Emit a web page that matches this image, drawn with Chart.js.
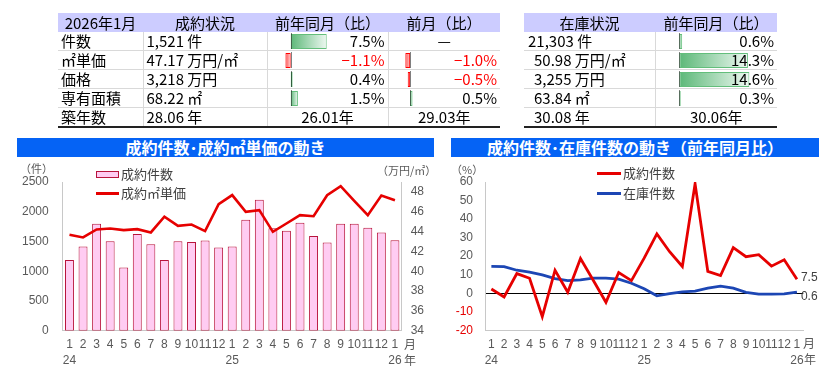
<!DOCTYPE html>
<html lang="ja">
<head>
<meta charset="UTF-8" />
<title>2026年1月 成約・在庫状況</title>
<script src="https://cdn.jsdelivr.net/npm/chart.js"></script>
<style>
  html, body { margin: 0; padding: 0; }
  body { width: 826px; height: 373px; position: relative; overflow: hidden; background: #fff;
         font-family: "Noto Sans CJK JP", sans-serif; color: #000; }
  .abs { position: absolute; }
  table { position: absolute; border-collapse: collapse; table-layout: fixed; z-index: 2; }
  th, td { padding: 0; font-size: 15px; line-height: 18px; font-weight: normal; white-space: nowrap; }
  th { background: #ccccff; text-align: center; height: 19px; }
  td { height: 18px; border-bottom: 1px solid #d9d9d9; border-right: 1px solid #d9d9d9; }
  td:last-child { border-right: none; }
  tr.last td { border-bottom: 2px solid #222; height: 17px; }
  td.l { text-align: left; padding-left: 3px; }
  td.r { text-align: right; padding-right: 3px; }
  td.c { text-align: center; }
  td.neg { color: #ff0000; }
  .title { position: absolute; height: 19px; line-height: 19px; background: #0563f5; color: #fff;
           font-size: 16px; font-weight: bold; text-align: center; }
  .note { position: absolute; font-size: 11px; color: #595959; line-height: 12px; white-space: nowrap; }
  .leg { position: absolute; font-size: 13px; color: #404040; line-height: 14px; white-space: nowrap; }
  .tick { position: absolute; font-family: "Liberation Sans", "Noto Sans CJK JP", sans-serif; font-size: 12px; color: #595959; line-height: 14px; }
  canvas { position: absolute; }
</style>
</head>
<body>
<table id="t1" style="left:58px; top:13px; width:442px">
  <colgroup><col style="width:85px"><col style="width:124px"><col style="width:121px"><col style="width:112px"></colgroup>
  <thead><tr><th>2026年1月</th><th>成約状況</th><th>前年同月（比）</th><th>前月（比）</th></tr></thead>
  <tbody></tbody>
</table>
<table id="t2" style="left:524px; top:13px; width:253px">
  <colgroup><col style="width:131px"><col style="width:122px"></colgroup>
  <thead><tr><th>在庫状況</th><th>前年同月（比）</th></tr></thead>
  <tbody></tbody>
</table>

<canvas id="barYoY" width="118" height="76" style="left:268px; top:32px; z-index:1"></canvas>
<canvas id="barMoM" width="109" height="57" style="left:389px; top:51px; z-index:1"></canvas>
<canvas id="barStock" width="119" height="76" style="left:656px; top:32px; z-index:1"></canvas>

<div class="title" style="left:17px; top:138px; width:417px">成約件数･成約㎡単価の動き</div>
<div class="title" style="left:451px; top:138px; width:368px">成約件数･在庫件数の動き（前年同月比）</div>

<canvas id="left" width="440" height="213" style="left:0; top:160px"></canvas>
<canvas id="right" width="386" height="213" style="left:440px; top:160px"></canvas>

<div class="note" style="left:20px; top:162px">（件）</div>
<div class="note" style="left:377px; top:164px">（万円/㎡）</div>
<div class="note" style="left:451px; top:163px">（%）</div>

<div class="abs" style="left:96px; top:171px; width:21px; height:5px; background:#ffccf2; border:1px solid #b8143c"></div>
<div class="leg" style="left:121px; top:167px">成約件数</div>
<div class="abs" style="left:96px; top:192px; width:23px; height:3px; background:#e60000"></div>
<div class="leg" style="left:121px; top:186px">成約㎡単価</div>

<div class="abs" style="left:597px; top:172px; width:24px; height:3px; background:#e60000"></div>
<div class="leg" style="left:623px; top:166px">成約件数</div>
<div class="abs" style="left:597px; top:192px; width:24px; height:3px; background:#1c46b4"></div>
<div class="leg" style="left:623px; top:186px">在庫件数</div>

<div class="tick" style="left:404px; top:338px">月</div>
<div class="tick" style="left:404px; top:354px">年</div>
<div class="tick" style="left:803px; top:337px">月</div>
<div class="tick" style="left:804px; top:353px">年</div>

<script>
// table values
const rowNames = ['件数', '㎡単価', '価格', '専有面積', '築年数'];
const contractValues = ['1,521 件', '47.17 万円/㎡', '3,218 万円', '68.22 ㎡', '28.06 年'];
const contractYoY = [7.5, -1.1, 0.4, 1.5];
const contractMoM = [null, -1.0, -0.5, 0.5];
const ageYoY = '26.01年';
const ageMoM = '29.03年';
const stockValues = ['21,303 件', '50.98 万円/㎡', '3,255 万円', '63.84 ㎡', '30.08 年'];
const stockYoYTable = [0.6, 14.3, 14.6, 0.3];
const stockAge = '30.06年';

// chart values, Jan 2024 .. Jan 2026
const months = ['1','2','3','4','5','6','7','8','9','10','11','12','1','2','3','4','5','6','7','8','9','10','11','12','1'];
const years = ['24', '25', '26'];
const contracts = [1190, 1415, 1801, 1505, 1063, 1628, 1454, 1190, 1505, 1493, 1516, 1398,
                   1415, 1868, 2204, 1722, 1683, 1818, 1594, 1482, 1801, 1801, 1734, 1650, 1521];
const unitPrice = [43.68, 43.41, 44.22, 44.32, 44.15, 44.25, 43.92, 45.50, 44.59, 44.72, 44.05, 46.77,
                   47.69, 46.00, 46.17, 43.98, 44.82, 45.66, 45.56, 47.68, 48.59, 47.10, 45.66, 47.65, 47.17];
const contractsYoY = [2.3, -2.0, 10.6, 8.1, -12.6, 12.4, 0.5, 18.7, 7.0, -4.9, 11.2, 6.8,
                      18.9, 32.0, 22.4, 14.4, 59.0, 11.8, 9.5, 24.6, 19.7, 20.8, 14.6, 18.0, 7.5];
const stockYoY = [14.5, 14.4, 12.4, 11.4, 9.9, 7.9, 6.8, 7.2, 8.1, 8.1, 7.6, 5.4,
                  2.4, -1.4, -0.2, 0.7, 1.1, 2.7, 3.8, 2.7, 0.5, -0.5, -0.5, -0.4, 0.6];

const FONT = '"Liberation Sans", "Noto Sans CJK JP", sans-serif';
Chart.defaults.font.family = FONT;
Chart.defaults.font.size = 12;

function pct(v) {
  return (v < 0 ? '−' : '') + Math.abs(v).toFixed(1) + '%';
}
function cell(tr, text, cls) {
  const td = document.createElement('td');
  td.textContent = text;
  td.className = cls;
  tr.appendChild(td);
}

// left table
const body1 = document.querySelector('#t1 tbody');
rowNames.forEach((name, i) => {
  const tr = document.createElement('tr');
  if (i === rowNames.length - 1) tr.className = 'last';
  cell(tr, name, 'l');
  cell(tr, contractValues[i], 'l');
  if (i < contractYoY.length) {
    cell(tr, pct(contractYoY[i]), 'r' + (contractYoY[i] < 0 ? ' neg' : ''));
    if (contractMoM[i] == null) cell(tr, '—', 'c');
    else cell(tr, pct(contractMoM[i]), 'r' + (contractMoM[i] < 0 ? ' neg' : ''));
  } else {
    cell(tr, ageYoY, 'c');
    cell(tr, ageMoM, 'c');
  }
  body1.appendChild(tr);
});

// right table
const body2 = document.querySelector('#t2 tbody');
rowNames.forEach((name, i) => {
  const tr = document.createElement('tr');
  if (i === rowNames.length - 1) tr.className = 'last';
  cell(tr, stockValues[i], 'l');
  tr.firstChild.style.paddingLeft = i > 0 ? '10px' : '4px';
  if (i < stockYoYTable.length) cell(tr, pct(stockYoYTable[i]), 'r' + (stockYoYTable[i] < 0 ? ' neg' : ''));
  else cell(tr, stockAge, 'c');
  body2.appendChild(tr);
});

// excel style data bars
function barFill(ctx) {
  const v = ctx.raw;
  const x = ctx.chart.scales.x;
  if (v == null || !x) return 'transparent';
  const x0 = x.getPixelForValue(0), x1 = x.getPixelForValue(v);
  if (!isFinite(x0) || !isFinite(x1)) return v < 0 ? '#ff8080' : '#9fd8ae';
  const g = ctx.chart.ctx.createLinearGradient(x0, 0, x1 + (v < 0 ? -0.1 : 0.1), 0);
  if (v < 0) { g.addColorStop(0, '#ffd0d0'); g.addColorStop(1, '#ff4b4b'); }
  else { g.addColorStop(0, '#5cb878'); g.addColorStop(1, '#eef8f1'); }
  return g;
}

const zeroAxis = {
  id: 'zeroAxis',
  afterDatasetsDraw(chart) {
    const { ctx } = chart;
    const px = Math.round(chart.scales.x.getPixelForValue(0)) + 0.5;
    ctx.save();
    ctx.strokeStyle = '#000';
    ctx.lineWidth = 1;
    ctx.setLineDash([1, 1]);
    ctx.beginPath();
    chart.getDatasetMeta(0).data.forEach(bar => {
      ctx.moveTo(px, bar.y - 8);
      ctx.lineTo(px, bar.y + 8);
    });
    ctx.stroke();
    ctx.restore();
  }
};

function dataBars(id, values, min, max) {
  new Chart(document.getElementById(id), {
    type: 'bar',
    data: {
      labels: values.map((v, i) => String(i)),
      datasets: [{
        data: values,
        backgroundColor: barFill,
        borderColor: ctx => ctx.raw < 0 ? '#ff0000' : '#63be7b',
        borderWidth: 1,
        borderSkipped: false,
        barPercentage: 0.8,
        categoryPercentage: 1
      }]
    },
    options: {
      indexAxis: 'y',
      responsive: false,
      animation: false,
      events: [],
      layout: { padding: 0 },
      plugins: { legend: { display: false }, tooltip: { enabled: false } },
      scales: {
        x: { display: false, min: min, max: max },
        y: { display: false }
      }
    },
    plugins: [zeroAxis]
  });
}

dataBars('barYoY', contractYoY, -4.73, 19.85);
dataBars('barMoM', contractMoM.slice(1), -4.4, 18.3);
dataBars('barStock', stockYoYTable, -4.85, 19.94);

// x labels: month, with year under every January
let yi = 0;
const labels = months.map(m => (m === '1' ? [m, years[yi++]] : m));

const tickFont = { size: 12, family: FONT, lineHeight: 1.35 };
const plain = v => String(v);

new Chart(document.getElementById('left'), {
  type: 'bar',
  data: {
    labels: labels,
    datasets: [
      {
        type: 'line',
        label: '成約㎡単価',
        data: unitPrice,
        yAxisID: 'y1',
        borderColor: '#e60000',
        borderWidth: 2.6,
        pointRadius: 0,
        tension: 0,
        order: 1
      },
      {
        type: 'bar',
        label: '成約件数',
        data: contracts,
        yAxisID: 'y',
        backgroundColor: '#ffccf2',
        borderColor: '#b8143c',
        borderWidth: 1,
        borderSkipped: false,
        barPercentage: 0.66,
        categoryPercentage: 1,
        order: 2
      }
    ]
  },
  options: {
    responsive: false,
    animation: false,
    events: [],
    layout: { padding: { top: 22, left: 0, right: 0, bottom: 0 } },
    plugins: { legend: { display: false }, tooltip: { enabled: false } },
    scales: {
      x: {
        grid: { display: false, drawTicks: false },
        border: { color: '#c8c8c8' },
        ticks: { color: '#595959', font: tickFont, padding: 6, maxRotation: 0, autoSkip: false },
        afterFit: s => { s.height = 42.3; }
      },
      y: {
        position: 'left',
        min: 0, max: 2500,
        grid: { display: false, drawTicks: false },
        border: { color: '#c8c8c8' },
        ticks: { stepSize: 500, autoSkip: false, callback: plain, color: '#595959', font: tickFont, padding: 14 },
        afterFit: s => { s.width = 62.7; }
      },
      y1: {
        position: 'right',
        min: 34, max: 49,
        grid: { display: false, drawTicks: false },
        border: { color: '#c8c8c8' },
        ticks: { stepSize: 2, includeBounds: false, autoSkip: false, callback: plain, color: '#595959', font: tickFont, padding: 9 },
        afterFit: s => { s.width = 38.3; }
      }
    }
  }
});

const endLabels = {
  id: 'endLabels',
  afterDatasetsDraw(chart) {
    const ctx = chart.ctx;
    const shift = [-2, 5];
    ctx.save();
    ctx.font = '12px ' + FONT;
    ctx.fillStyle = '#404040';
    ctx.textBaseline = 'middle';
    chart.data.datasets.forEach((ds, i) => {
      const pts = chart.getDatasetMeta(i).data;
      const p = pts[pts.length - 1];
      ctx.fillText(ds.data[ds.data.length - 1].toFixed(1), p.x + 4, p.y + shift[i]);
    });
    ctx.restore();
  }
};

new Chart(document.getElementById('right'), {
  type: 'line',
  data: {
    labels: labels,
    datasets: [
      { label: '成約件数', data: contractsYoY, borderColor: '#e60000', borderWidth: 2.8, pointRadius: 0, tension: 0 },
      { label: '在庫件数', data: stockYoY, borderColor: '#1c46b4', borderWidth: 2.8, pointRadius: 0, tension: 0 }
    ]
  },
  options: {
    responsive: false,
    animation: false,
    events: [],
    layout: { padding: { top: 22, left: 0, right: 22.7, bottom: 0 } },
    plugins: { legend: { display: false }, tooltip: { enabled: false } },
    scales: {
      x: {
        offset: true,
        grid: { display: false, drawTicks: false },
        border: { color: '#c8c8c8' },
        ticks: { color: '#595959', font: tickFont, padding: 6, maxRotation: 0, autoSkip: false },
        afterFit: s => { s.height = 42.7; }
      },
      y: {
        min: -20, max: 60,
        grid: { drawTicks: false, color: c => (c.tick && c.tick.value === 0 ? '#000' : 'rgba(0,0,0,0)') },
        border: { color: '#c8c8c8' },
        ticks: { stepSize: 10, autoSkip: false, callback: plain, font: tickFont, padding: 12,
                 color: c => (c.tick && c.tick.value < 0 ? '#e60000' : '#595959') },
        afterFit: s => { s.width = 45; }
      }
    }
  },
  plugins: [endLabels]
});
</script>
</body>
</html>
